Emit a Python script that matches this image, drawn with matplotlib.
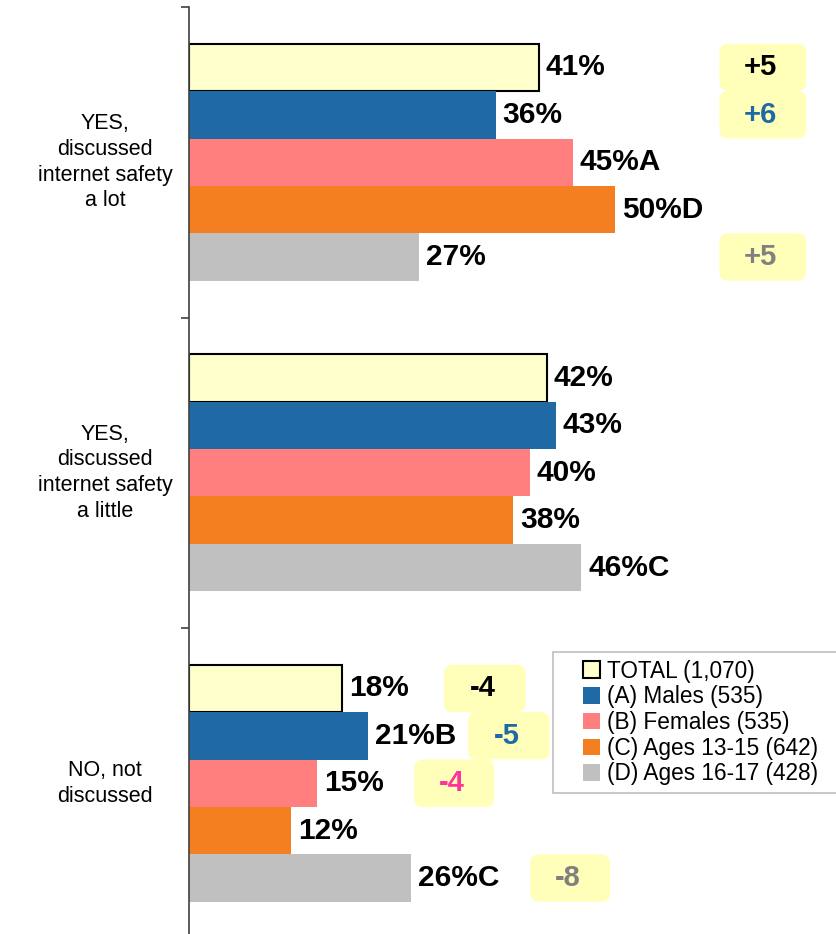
import matplotlib
matplotlib.use("Agg")
import matplotlib.pyplot as plt
from matplotlib.patches import FancyBboxPatch, Rectangle
from matplotlib.transforms import IdentityTransform, blended_transform_factory

plt.rcParams['font.family'] = ['Liberation Sans', 'DejaVu Sans']

# categories and series
categorias = ["YES,\ndiscussed\ninternet safety\na lot",
              "YES,\ndiscussed\ninternet safety\na little",
              "NO, not\ndiscussed"]
series = ["TOTAL (1,070)", "(A) Males (535)", "(B) Females (535)",
          "(C) Ages 13-15 (642)", "(D) Ages 16-17 (428)"]
total = [41, 42, 18]
males = [36, 43, 21]
females = [45, 40, 15]
ages_13_15 = [50, 38, 12]
ages_16_17 = [27, 46, 26]
# letras de significancia
sufixos = [["", "", ""],
           ["", "", "B"],
           ["A", "", ""],
           ["D", "", ""],
           ["", "C", "C"]]
# mudancas (categoria, serie, texto)
mudancas = [(0, 0, "+5"), (0, 1, "+6"), (0, 4, "+5"),
            (2, 0, "-4"), (2, 1, "-5"), (2, 2, "-4"), (2, 4, "-8")]
# posicao x (em %) e largura das caixas de mudanca
caixa_x = [62.2, 62.2, 62.2, 29.9, 32.7, 26.4, 40.0]
caixa_w = [10.2, 10.2, 10.2, 9.6, 9.6, 9.4, 9.4]

valores = [total, males, females, ages_13_15, ages_16_17]
cores = ['#FFFFCC', '#1F6AA5', '#FF7F7F', '#F47F20', '#C0C0C0']
cores_texto = ['black', '#1F6AA5', '#FF3399', 'black', '#808080']

fig = plt.figure(figsize=(8.37, 9.34), dpi=100)
ax = fig.add_axes([189/837, -4.5/934, 648/837, 931.5/934])

h = 0.1527
for i, vals in enumerate(valores):
    ys = [c + (i - 2) * h for c in range(len(categorias))]
    if i == 0:
        ax.barh(ys, vals, height=h, color=cores[i], edgecolor='black',
                linewidth=1.5, label=series[i], zorder=2)
    else:
        ax.barh(ys, vals, height=h, color=cores[i], linewidth=0,
                label=series[i], zorder=2)
    for y, v, s in zip(ys, vals, sufixos[i]):
        ax.text(v + 0.8, y, f"{v}%{s}", va='center', ha='left',
                fontsize=21.5, fontweight='bold', color='black')

ax.set_xlim(0, 76)
ax.set_ylim(2.5, -0.5)

for s in ['top', 'right', 'bottom']:
    ax.spines[s].set_visible(False)
ax.spines['left'].set_color('#404040')
ax.spines['left'].set_linewidth(1.2)
ax.set_xticks([])
ax.set_yticks([-0.5, 0.5, 1.5])
ax.set_yticklabels([])
ax.tick_params(axis='y', length=6, width=1.2, color='#404040', direction='out')

trans = blended_transform_factory(ax.transAxes, ax.transData)
for c, lab in enumerate(categorias):
    ax.text(-84/648, c, lab, transform=trans, ha='center', va='center',
            fontsize=15.5, linespacing=1.3)

# caixas de mudanca
for (c, i, txt), bx, bw in zip(mudancas, caixa_x, caixa_w):
    yc = c + (i - 2) * h
    x0, y0 = ax.transData.transform((bx, yc + h / 2))
    x1, y1 = ax.transData.transform((bx + bw, yc - h / 2))
    caixa = FancyBboxPatch((x0, y0), x1 - x0, y1 - y0,
                           boxstyle='round,pad=0,rounding_size=9',
                           transform=IdentityTransform(),
                           facecolor='#FFFFB9', edgecolor='none', zorder=3)
    fig.add_artist(caixa)
    fig.text((x0 + x1) / 2 - 2, (y0 + y1) / 2, txt, transform=IdentityTransform(),
             ha='center', va='center', fontsize=21, fontweight='bold',
             color=cores_texto[i], zorder=4)

# legenda
moldura = Rectangle((553, 934 - 793), 290, 141, transform=IdentityTransform(),
                    facecolor='white', edgecolor='#BFBFBF', linewidth=1.2, zorder=3)
fig.add_artist(moldura)
handles, labels = ax.get_legend_handles_labels()
leg = fig.legend(handles, labels, loc='upper left',
                 bbox_to_anchor=(569/837, 1 - 646/934), frameon=False,
                 fontsize=16.3, handlelength=0.75, handleheight=0.75,
                 handletextpad=0.35, labelspacing=0.12, borderpad=0.1)
leg.set_zorder(4)

fig.savefig("out.png", dpi=100)
